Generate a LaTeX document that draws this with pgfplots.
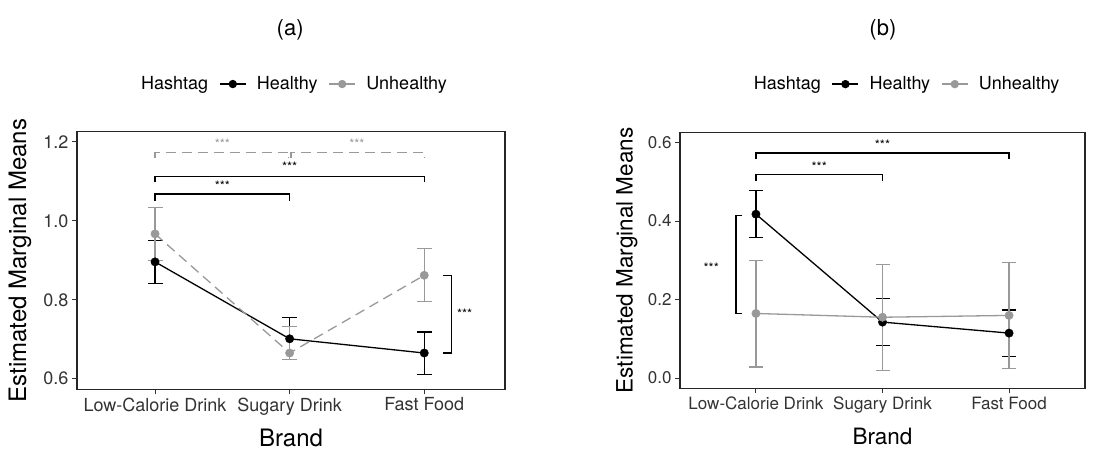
\documentclass[border=0pt]{standalone}
\usepackage{fontspec}
\setmainfont{TeX Gyre Heros}
\usepackage{pgfplots}
\usepackage{pgfplotstable}
\pgfplotsset{compat=1.18}
\definecolor{g60}{RGB}{153,153,153}

\pgfplotstableread{
x y ep em
1 0.896 0.054 0.055
2 0.701 0.054 0.053
3 0.665 0.053 0.055
}\aH
\pgfplotstableread{
x y ep em
1 0.967 0.067 0.067
2 0.665 0.068 0.017
3 0.862 0.068 0.066
}\aU
\pgfplotstableread{
x y ep em
1 0.4175 0.060 0.060
2 0.1426 0.060 0.060
3 0.1146 0.059 0.060
}\bH
\pgfplotstableread{
x y ep em
1 0.1646 0.135 0.136
2 0.1550 0.135 0.135
3 0.1596 0.135 0.135
}\bU

\tikzset{sig/.style={font=\fontsize{13}{13}\selectfont}}
\pgfplotsset{
 emm/.style={
  scale only axis,
  clip=false,
  axis line style={line width=1.4pt, black!85},
  tick style={line width=1pt, black!80},
  tick align=outside, major tick length=5pt,
  xtick pos=bottom, ytick pos=left,
  xtick={1,2,3}, xticklabels={Low-Calorie Drink, Sugary Drink, Fast Food},
  xmin=0.42, xmax=3.6,
  ticklabel style={font=\fontsize{18}{20}\selectfont, text=black!80},
  /pgf/number format/assume math mode=true,
  /pgf/number format/fixed, /pgf/number format/fixed zerofill, /pgf/number format/precision=1,
  xlabel={Brand}, ylabel={Estimated Marginal Means},
  label style={font=\fontsize{24}{26}\selectfont},
  legend columns=-1,
  legend style={draw=none, fill=none, font=\fontsize{18}{20}\selectfont, anchor=center,
    /tikz/every odd column/.append style={column sep=8.5pt},
    /tikz/every even column/.append style={column sep=9pt},
    nodes={inner sep=2pt}},
  legend image code/.code={\draw[mark repeat=2,mark phase=2,##1] plot coordinates {(0pt,0pt)(13pt,0pt)(26pt,0pt)};},
 },
 ebar/.style={only marks, mark=none, error bars/.cd, y dir=both, y explicit,
   error bar style={line width=1.3pt, solid},
   error mark options={rotate=90, line width=1.3pt, mark size=#1, solid}},
}

\begin{document}
\begin{tikzpicture}[x=1pt,y=1pt]
\useasboundingbox (0,0) rectangle (1115,451);

% ---------------- panel (a)
\begin{axis}[emm, at={(77pt,61.7pt)}, anchor=south west, width=428pt, height=257.6pt,
  ymin=0.573, ymax=1.226, ytick={0.6,0.8,1.0,1.2},
  xlabel style={at={(axis description cs:0.5,-0.19)}, anchor=center},
  ylabel style={at={(axis description cs:-0.133,0.5)}, anchor=center},
  legend style={at={(axis description cs:0.497,1.185)}}]
\addlegendimage{empty legend}\addlegendentry{Hashtag}
\addlegendimage{black, line width=1.3pt, mark=*, mark size=3.5pt}\addlegendentry{Healthy}
\addlegendimage{g60, line width=1.3pt, mark=*, mark size=3.5pt}\addlegendentry{Unhealthy}

\addplot[black, ebar=7.5pt] table[x=x,y=y,y error plus=ep,y error minus=em]{\aH};
\addplot[g60, ebar=7.5pt] table[x=x,y=y,y error plus=ep,y error minus=em]{\aU};
\addplot[black, line width=1.3pt, mark=none] table[x=x,y=y]{\aH};
\addplot[g60, line width=1.3pt, dash pattern=on 10pt off 6pt, mark=none] table[x=x,y=y]{\aU};
\addplot[black, only marks, mark=*, mark size=4.2pt] table[x=x,y=y]{\aH};
\addplot[g60, only marks, mark=*, mark size=4.2pt] table[x=x,y=y]{\aU};

% significance brackets
\addplot[g60, line width=1.3pt, dash pattern=on 10pt off 6pt] coordinates {(1,1.160)(1,1.174)(1.99,1.174)(1.99,1.160)};
\addplot[g60, line width=1.3pt, dash pattern=on 10pt off 6pt] coordinates {(2.01,1.160)(2.01,1.174)(3,1.174)(3,1.160)};
\node[sig, text=g60] at (axis cs:1.5,1.196) {***};
\node[sig, text=g60] at (axis cs:2.5,1.196) {***};
\addplot[black, line width=1.3pt] coordinates {(1,1.098)(1,1.112)(3,1.112)(3,1.098)};
\node[sig] at (axis cs:2,1.138) {***};
\addplot[black, line width=1.3pt] coordinates {(1,1.051)(1,1.068)(2,1.068)(2,1.051)};
\node[sig] at (axis cs:1.5,1.089) {***};
\addplot[black, line width=1.3pt] coordinates {(3.14,0.862)(3.204,0.862)(3.204,0.665)(3.14,0.665)};
\node[sig] at (axis cs:3.30,0.764) {***};
\node[font=\fontsize{22}{24}\selectfont] at (axis description cs:0.498,1.395) {(a)};
\end{axis}

% ---------------- panel (b)
\begin{axis}[emm, at={(680pt,62.7pt)}, anchor=south west, width=405pt, height=255.6pt,
  xmin=0.4, xmax=3.6,
  ymin=-0.026, ymax=0.625, ytick={0,0.2,0.4,0.6},
  ticklabel style={font=\fontsize{17}{19}\selectfont},
  label style={font=\fontsize{22.5}{24}\selectfont},
  xlabel style={at={(axis description cs:0.5,-0.188)}, anchor=center},
  ylabel style={at={(axis description cs:-0.131,0.5)}, anchor=center},
  legend style={at={(axis description cs:0.549,1.19)}}]
\addlegendimage{empty legend}\addlegendentry{Hashtag}
\addlegendimage{black, line width=1.3pt, mark=*, mark size=3.5pt}\addlegendentry{Healthy}
\addlegendimage{g60, line width=1.3pt, mark=*, mark size=3.5pt}\addlegendentry{Unhealthy}

\addplot[black, ebar=7pt] table[x=x,y=y,y error plus=ep,y error minus=em]{\bH};
\addplot[g60, ebar=7pt] table[x=x,y=y,y error plus=ep,y error minus=em]{\bU};
\addplot[black, line width=1.3pt, mark=none] table[x=x,y=y]{\bH};
\addplot[g60, line width=1.3pt, mark=none] table[x=x,y=y]{\bU};
\addplot[black, only marks, mark=*, mark size=4.2pt] table[x=x,y=y]{\bH};
\addplot[g60, only marks, mark=*, mark size=4.2pt] table[x=x,y=y]{\bU};

\addplot[black, line width=1.3pt] coordinates {(1,0.558)(1,0.573)(3,0.573)(3,0.558)};
\node[sig] at (axis cs:2,0.594) {***};
\addplot[black, line width=1.3pt] coordinates {(1,0.502)(1,0.518)(2,0.518)(2,0.502)};
\node[sig] at (axis cs:1.5,0.539) {***};
\addplot[black, line width=1.3pt] coordinates {(0.89,0.414)(0.842,0.414)(0.842,0.165)(0.89,0.165)};
\node[sig] at (axis cs:0.647,0.282) {***};
\node[font=\fontsize{22}{24}\selectfont] at (axis description cs:0.501,1.402) {(b)};
\end{axis}
\end{tikzpicture}
\end{document}
